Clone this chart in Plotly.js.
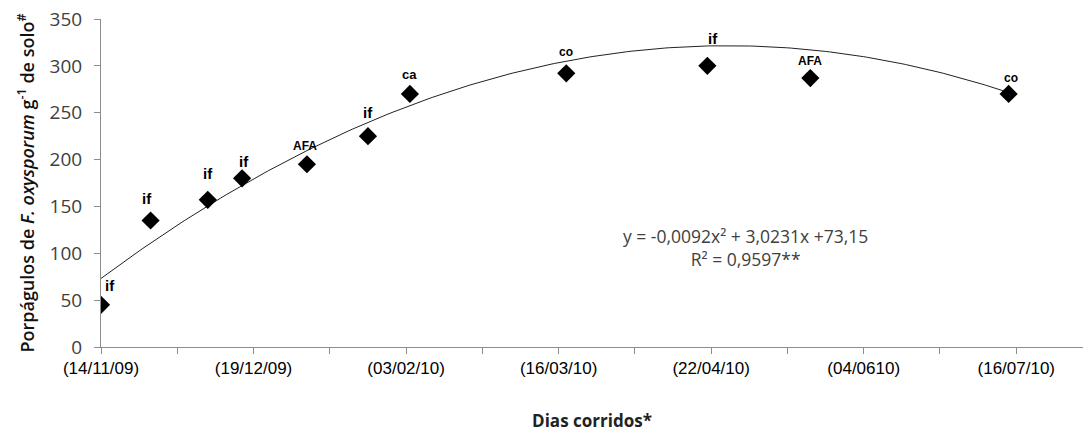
<!DOCTYPE html>
<html>
<head>
<meta charset="utf-8">
<script src="https://cdn.plot.ly/plotly-3.0.1.min.js"></script>
<style>html,body{margin:0;padding:0;background:#fff;}#chart{width:1083px;height:432px;}</style>
</head>
<body>
<div id="chart"></div>
<script>
// Data
const days = [0, 13, 28, 37, 54, 70, 81, 122, 159, 186, 238];
const counts = [45, 135, 157, 180, 195, 225, 270, 292, 300, 287, 270];
const pointLabels = ['if', 'if', 'if', 'if', 'AFA', 'if', 'ca', 'co', 'if', 'AFA', 'co'];
const tickValues = [0, 40, 80, 120, 160, 200, 240];
const tickLabels = ['(14/11/09)', '(19/12/09)', '(03/02/10)', '(16/03/10)', '(22/04/10)', '(04/0610)', '(16/07/10)'];
// Trendline coefficients shown on the chart
const coefA = -0.0092, coefB = 3.0231, coefC = 73.15;
const equationText = 'y = -0,0092x² + 3,0231x +73,15<br>R² = 0,9597**';

// label offsets (style only)
const labelShift = [[9,19],[-4,22],[0,26],[2,17],[-2,18],[0,24],[0,19],[0,21],[6,27],[0,17],[2,16]];
const labelSize = {'if':15, 'AFA':12, 'co':12, 'ca':13};

const trendX = [], trendY = [];
for (let x = 0; x <= days[days.length-1]; x += 1) {
  trendX.push(x);
  trendY.push(coefA*x*x + coefB*x + coefC);
}

const alias = {};
tickValues.forEach((v, i) => { alias[String(v)] = tickLabels[i]; });

const traces = [
  {x: trendX, y: trendY, type: 'scatter', mode: 'lines', line: {color: '#222', width: 1}, hoverinfo: 'skip'},
  {x: days, y: counts, type: 'scatter', mode: 'markers',
   marker: {symbol: 'diamond', size: 14, color: '#000'}}
];

const annotations = days.map((d, i) => ({
  x: d, y: counts[i], xref: 'x', yref: 'y', text: pointLabels[i], showarrow: false,
  xshift: labelShift[i][0], yshift: labelShift[i][1],
  font: {family: 'Liberation Sans, Arial, sans-serif', size: labelSize[pointLabels[i]], color: '#000', weight: 'bold'}
}));
annotations.push({
  x: 169, y: 106, xref: 'x', yref: 'y', text: equationText, showarrow: false,
  font: {family: 'Open Sans, sans-serif', size: 17.5, color: '#404040'}, align: 'center'
});

const layout = {
  width: 1083, height: 432,
  margin: {l: 101, r: 0, t: 19, b: 85},
  paper_bgcolor: '#fff', plot_bgcolor: '#fff',
  showlegend: false,
  xaxis: {
    range: [0, 257.5], tickmode: 'linear', tick0: 0, dtick: 40, labelalias: alias,
    minor: {dtick: 20, ticks: 'outside', ticklen: 6, tickcolor: '#8c8c8c', showgrid: false},
    showgrid: false, zeroline: false, showline: true, linecolor: '#8c8c8c', linewidth: 1,
    ticks: 'outside', ticklen: 6, tickcolor: '#8c8c8c',
    tickfont: {family: 'Liberation Sans, Arial, sans-serif', size: 17, color: '#000'},
    title: {text: '<b>Dias corridos*</b>', standoff: 38,
      font: {family: 'Open Sans, sans-serif', size: 17, color: '#222'}},
    fixedrange: true
  },
  yaxis: {
    range: [0, 350], dtick: 50,
    showgrid: false, zeroline: false, showline: true, linecolor: '#8c8c8c', linewidth: 1,
    ticks: 'outside', ticklen: 6, tickcolor: '#8c8c8c',
    tickfont: {family: 'Open Sans, sans-serif', size: 19, color: '#404040'},
    ticklabelstandoff: 8,
    title: {text: 'Porpágulos de <i>F. oxysporum</i> g<sup>-1</sup> de solo<sup>#</sup>', standoff: 10,
      font: {family: 'Open Sans, sans-serif', size: 18, color: '#111', weight: 600}},
    fixedrange: true
  },
  annotations: annotations
};

Plotly.newPlot('chart', traces, layout, {displayModeBar: false, staticPlot: true});
</script>
</body>
</html>
